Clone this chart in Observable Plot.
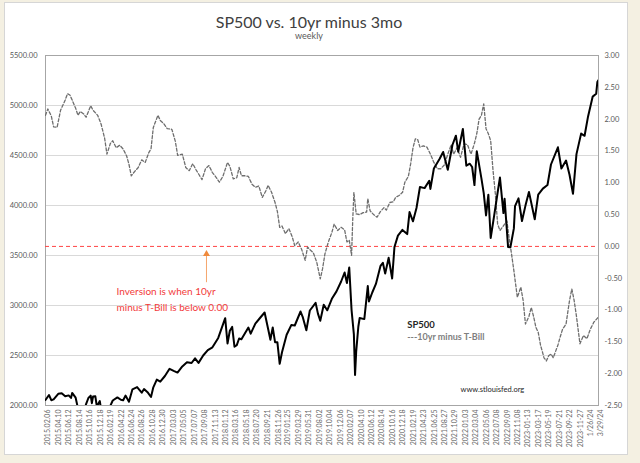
<!DOCTYPE html>
<html><head><meta charset="utf-8">
<script src="https://cdn.jsdelivr.net/npm/d3@7"></script>
<script src="https://cdn.jsdelivr.net/npm/@observablehq/plot@0.6"></script>
<style>
html,body{margin:0;padding:0;width:640px;height:463px;overflow:hidden;background:#f4f0e2;font-family:Lato,"Open Sans",sans-serif;}
#panel{position:absolute;left:4px;top:2px;width:622px;height:451px;background:#fff;border:1px solid #d6d6d6;}
#chart{position:absolute;left:0;top:0;}
.t{position:absolute;white-space:nowrap;transform:translateX(-50%);}
</style></head><body>
<div id="panel"></div>
<div class="t" style="left:309px;top:14px;font-size:16px;line-height:16px;color:#404040;">SP500 vs. 10yr minus 3mo</div>
<div class="t" style="left:309px;top:31px;font-size:9px;line-height:9px;color:#595959;">weekly</div>
<div id="chart"></div>
<script>
const spDates = ["2015-02-06","2015-02-27","2015-03-13","2015-03-27","2015-04-24","2015-05-15","2015-06-05","2015-06-26","2015-07-10","2015-07-17","2015-08-07","2015-08-21","2015-09-04","2015-09-18","2015-09-25","2015-10-09","2015-10-23","2015-11-06","2015-11-13","2015-11-20","2015-12-04","2015-12-11","2015-12-18","2015-12-31","2016-01-15","2016-02-12","2016-03-04","2016-03-18","2016-04-15","2016-05-06","2016-05-20","2016-06-03","2016-06-24","2016-07-15","2016-08-12","2016-09-09","2016-09-23","2016-10-14","2016-11-04","2016-11-18","2016-12-09","2016-12-30","2017-01-27","2017-02-24","2017-03-24","2017-04-13","2017-05-12","2017-06-09","2017-07-07","2017-07-28","2017-08-18","2017-09-15","2017-10-13","2017-11-10","2017-12-15","2018-01-26","2018-02-09","2018-02-23","2018-03-09","2018-03-23","2018-04-06","2018-04-20","2018-05-04","2018-06-15","2018-06-29","2018-07-27","2018-08-24","2018-09-21","2018-10-12","2018-10-26","2018-11-09","2018-11-23","2018-12-07","2018-12-21","2019-01-04","2019-02-01","2019-03-01","2019-03-22","2019-04-26","2019-05-10","2019-05-31","2019-06-21","2019-07-26","2019-08-09","2019-08-23","2019-09-13","2019-10-04","2019-11-01","2019-11-29","2019-12-27","2020-01-17","2020-01-31","2020-02-14","2020-02-28","2020-03-13","2020-03-20","2020-03-27","2020-04-09","2020-04-17","2020-05-15","2020-06-05","2020-06-12","2020-07-02","2020-07-24","2020-08-21","2020-09-04","2020-09-18","2020-10-09","2020-10-30","2020-11-13","2020-12-04","2020-12-31","2021-01-29","2021-02-12","2021-03-05","2021-03-26","2021-04-16","2021-05-14","2021-06-11","2021-06-18","2021-07-09","2021-08-13","2021-09-03","2021-10-01","2021-10-29","2021-11-19","2021-12-03","2021-12-31","2022-01-21","2022-02-11","2022-02-25","2022-03-11","2022-03-25","2022-04-22","2022-05-06","2022-05-20","2022-06-03","2022-06-17","2022-07-08","2022-07-29","2022-08-12","2022-09-02","2022-09-09","2022-09-30","2022-10-14","2022-11-04","2022-11-11","2022-12-02","2022-12-23","2023-01-13","2023-02-03","2023-03-10","2023-03-31","2023-04-28","2023-05-26","2023-06-16","2023-07-28","2023-08-18","2023-09-15","2023-10-06","2023-10-27","2023-11-17","2023-12-15","2024-01-05","2024-01-26","2024-02-23","2024-03-15","2024-03-22","2024-03-29"];
const spValues = [2055,2105,2053,2061,2117,2122,2092,2101,2076,2126,2078,1971,1921,1958,1931,2014,2075,2099,2023,2089,2092,2012,2005,2044,1880,1865,1999,2050,2081,2057,2052,2099,2037,2162,2184,2128,2165,2133,2085,2182,2259,2239,2295,2367,2344,2329,2391,2432,2425,2472,2426,2500,2553,2582,2676,2873,2620,2747,2786,2588,2604,2670,2663,2780,2718,2819,2875,2930,2767,2658,2781,2633,2633,2417,2532,2707,2804,2800,2940,2881,2752,2950,3026,2919,2847,3007,2952,3067,3141,3240,3330,3225,3380,2954,2711,2305,2541,2790,2875,2864,3194,3041,3130,3216,3397,3427,3319,3477,3270,3585,3699,3756,3714,3934,3842,3975,4185,4174,4247,4166,4370,4468,4535,4357,4605,4698,4538,4766,4398,4418,4385,4204,4543,4272,4123,3901,4108,3675,3899,4130,4280,3924,4067,3586,3583,3771,3993,4072,3845,3999,4136,3862,4109,4169,4205,4410,4582,4370,4450,4308,4117,4514,4719,4697,4891,5089,5117,5234,5254];

const spreadDates = ["2015-02-06","2015-02-20","2015-03-13","2015-03-27","2015-04-17","2015-05-08","2015-06-05","2015-06-19","2015-07-03","2015-07-17","2015-08-07","2015-08-21","2015-09-04","2015-09-25","2015-10-09","2015-11-06","2015-11-20","2015-12-18","2016-01-08","2016-01-29","2016-02-12","2016-03-04","2016-03-18","2016-04-08","2016-04-29","2016-05-20","2016-06-10","2016-06-24","2016-07-08","2016-07-29","2016-08-19","2016-09-09","2016-09-30","2016-10-21","2016-11-04","2016-11-18","2016-12-16","2016-12-30","2017-01-20","2017-02-10","2017-03-10","2017-03-31","2017-04-14","2017-05-12","2017-06-02","2017-06-23","2017-07-14","2017-08-04","2017-08-25","2017-09-08","2017-09-29","2017-10-20","2017-11-10","2017-12-01","2017-12-22","2018-01-12","2018-02-09","2018-02-23","2018-03-16","2018-04-06","2018-04-20","2018-05-04","2018-05-25","2018-06-15","2018-07-06","2018-07-27","2018-08-17","2018-09-07","2018-09-28","2018-10-12","2018-11-02","2018-11-23","2018-12-07","2018-12-21","2019-01-04","2019-01-25","2019-02-15","2019-03-08","2019-03-22","2019-04-12","2019-05-03","2019-05-24","2019-06-07","2019-06-21","2019-07-12","2019-08-02","2019-08-23","2019-09-06","2019-09-20","2019-10-11","2019-11-01","2019-11-15","2019-12-06","2019-12-27","2020-01-17","2020-01-31","2020-02-14","2020-02-28","2020-03-06","2020-03-13","2020-03-27","2020-04-17","2020-05-08","2020-05-29","2020-06-05","2020-06-19","2020-07-10","2020-07-31","2020-08-21","2020-09-11","2020-09-25","2020-10-16","2020-11-06","2020-11-20","2020-12-11","2021-01-01","2021-01-15","2021-02-05","2021-02-19","2021-03-05","2021-03-19","2021-04-02","2021-04-16","2021-05-07","2021-05-28","2021-06-18","2021-07-09","2021-07-30","2021-08-20","2021-09-10","2021-10-01","2021-10-22","2021-11-05","2021-11-26","2021-12-17","2022-01-07","2022-01-28","2022-02-18","2022-03-11","2022-03-25","2022-04-08","2022-04-22","2022-05-06","2022-05-20","2022-06-03","2022-06-17","2022-07-01","2022-07-15","2022-07-29","2022-08-12","2022-08-26","2022-09-09","2022-09-23","2022-10-07","2022-10-21","2022-11-04","2022-11-25","2022-12-16","2022-12-30","2023-01-13","2023-02-03","2023-02-17","2023-03-03","2023-03-17","2023-03-31","2023-04-14","2023-05-05","2023-05-19","2023-06-02","2023-06-16","2023-06-30","2023-07-14","2023-07-28","2023-08-11","2023-08-25","2023-09-15","2023-10-06","2023-10-20","2023-11-03","2023-11-17","2023-12-08","2023-12-29","2024-01-19","2024-02-09","2024-03-01","2024-03-29"];
const spreadValues = [2.06,2.16,2.05,1.88,1.87,2.14,2.30,2.40,2.38,2.30,2.17,2.06,2.12,2.08,2.03,2.21,2.14,2.06,1.92,1.70,1.45,1.62,1.66,1.55,1.59,1.53,1.42,1.29,1.11,1.18,1.24,1.36,1.32,1.47,1.53,1.87,2.06,1.98,1.93,1.85,1.84,1.65,1.43,1.45,1.24,1.19,1.30,1.20,1.11,1.05,1.22,1.27,1.16,1.09,1.01,1.10,1.32,1.26,1.06,1.08,1.24,1.11,1.11,1.10,0.98,0.93,0.95,0.77,0.87,0.96,0.85,0.69,0.55,0.30,0.32,0.20,0.28,0.14,0.01,0.07,-0.05,-0.22,-0.01,-0.05,-0.10,-0.25,-0.51,-0.35,-0.12,0.07,0.22,0.35,0.25,0.30,0.26,0.07,0.10,-0.14,0.41,0.85,0.51,0.50,0.53,0.54,0.75,0.56,0.50,0.46,0.55,0.61,0.57,0.69,0.70,0.77,0.80,0.85,1.01,1.10,1.30,1.55,1.69,1.68,1.56,1.58,1.56,1.45,1.32,1.22,1.22,1.28,1.45,1.60,1.45,1.55,1.40,1.61,1.60,1.45,1.62,1.77,2.00,2.06,2.24,1.85,1.77,1.66,1.20,0.83,0.35,0.25,0.30,0.35,0.40,0.12,-0.12,-0.38,-0.80,-0.64,-0.85,-1.22,-1.10,-0.96,-1.10,-1.27,-1.35,-1.55,-1.75,-1.80,-1.72,-1.69,-1.75,-1.65,-1.55,-1.42,-1.30,-1.22,-0.85,-0.67,-0.85,-1.10,-1.53,-1.40,-1.45,-1.30,-1.19,-1.11];

const xLabels = ["2015.02.06","2015.04.10","2015.06.12","2015.08.14","2015.10.16","2015.12.18","2016.02.19","2016.04.22","2016.06.24","2016.08.26","2016.10.28","2016.12.30","2017.03.03","2017.05.05","2017.07.07","2017.09.08","2017.11.13","2018.01.12","2018.03.16","2018.05.18","2018.07.20","2018.09.21","2018.11.26","2019.01.25","2019.03.29","2019.05.31","2019.08.02","2019.10.04","2019.12.06","2020.02.07","2020.04.10","2020.06.12","2020.08.14","2020.10.16","2020.12.18","2021.02.19","2021.04.23","2021.06.25","2021.08.27","2021.10.29","2022.01.03","2022.03.04","2022.05.06","2022.07.08","2022.09.09","2022.11.08","2023-01-13","2023-03-17","2023-05-19","2023-07-21","2023-09-22","2023-11-27","1/26/24","3/29/24"];
const leftTicks = [2000,2500,3000,3500,4000,4500,5000,5500];
const rightTicks = [-2.5,-2,-1.5,-1,-0.5,0,0.5,1,1.5,2,2.5,3];

const noteText = "Inversion is when 10yr\nminus T-Bill is below 0.00";
const noteDate = "2016-04-10", noteValue = 3075;
const arrowDate = "2017-10-05", arrowFrom = -0.57, arrowTo = -0.12;
const legendTexts = ["SP500", "---10yr minus T-Bill"];
const legendDate = "2021-01-29", legendValues = [2805, 2685];
const sourceText = "www.stlouisfed.org", sourceDate = "2021-12-17", sourceValue = 2160;

const L0 = 2000, L1 = 5500, R0 = -2.5, R1 = 3;
const toLeft = r => L0 + (r - R0) * (L1 - L0) / (R1 - R0);
const fromLeft = v => R0 + (v - L0) * (R1 - R0) / (L1 - L0);

function parseLabel(s) {
  let m;
  if ((m = s.match(/^(\d{4})[.-](\d{2})[.-](\d{2})$/))) return new Date(Date.UTC(+m[1], +m[2] - 1, +m[3]));
  if ((m = s.match(/^(\d+)\/(\d+)\/(\d+)$/))) return new Date(Date.UTC(2000 + +m[3], +m[1] - 1, +m[2]));
}
const xTicks = xLabels.map(parseLabel);
const labelOf = new Map(xTicks.map((d, i) => [+d, xLabels[i]]));

const sp = spDates.map((d, i) => ({date: new Date(d), value: spValues[i]}));
const spread = spreadDates.map((d, i) => ({date: new Date(d), value: toLeft(spreadValues[i])}));

const chart = Plot.plot({
  width: 640, height: 463,
  marginLeft: 45, marginRight: 42, marginTop: 55, marginBottom: 58,
  style: {fontFamily: "Lato, 'Open Sans', sans-serif", fontSize: "7.5px", color: "#595959", background: "transparent", overflow: "visible"},
  x: {type: "utc", domain: [xTicks[0], xTicks[xTicks.length - 1]]},
  y: {domain: [L0, L1]},
  marks: [
    Plot.gridY(leftTicks.slice(1, -1), {stroke: "#d9d9d9", strokeOpacity: 1}),
    Plot.frame({stroke: "#a6a6a6"}),
    Plot.ruleY([toLeft(0)], {stroke: "#ff4545", strokeDasharray: "4,3", strokeWidth: 1}),
    Plot.lineY(spread, {x: "date", y: "value", stroke: "#6e6e6e", strokeWidth: 1.3, strokeDasharray: "3,2", clip: true}),
    Plot.lineY(sp, {x: "date", y: "value", stroke: "#000", strokeWidth: 2, clip: true}),
    Plot.axisY(leftTicks, {anchor: "left", tickSize: 0, tickPadding: 8, tickFormat: d => d.toFixed(2), label: null}),
    Plot.axisY(rightTicks.map(toLeft), {anchor: "right", tickSize: 0, tickPadding: 6, tickFormat: d => fromLeft(d).toFixed(2), label: null}),
    Plot.axisX(xTicks, {anchor: "bottom", tickSize: 0, tickPadding: 4, rotate: -90, textAnchor: "end", fontSize: 7, fill: "#6a6a6a", tickFormat: d => labelOf.get(+d), label: null}),
    Plot.ruleX([{date: new Date(arrowDate), y1: toLeft(arrowFrom), y2: toLeft(arrowTo)}], {x: "date", y1: "y1", y2: "y2", stroke: "#f5a66c", strokeWidth: 1}),
    Plot.dot([{date: new Date(arrowDate), y: toLeft(arrowTo)}], {x: "date", y: "y", symbol: "triangle", r: 2.6, fill: "#f08a3c", stroke: null}),
    Plot.text([{date: new Date(noteDate), y: noteValue, t: noteText}], {x: "date", y: "y", text: "t", textAnchor: "start", lineHeight: 1.6, fontSize: 10, fill: "#f23a3a"}),
    Plot.text([{date: new Date(legendDate), y: legendValues[0], t: legendTexts[0]}], {x: "date", y: "y", text: "t", textAnchor: "start", fontSize: 9.5, fontWeight: "bold", fill: "#262626"}),
    Plot.text([{date: new Date(legendDate), y: legendValues[1], t: legendTexts[1]}], {x: "date", y: "y", text: "t", textAnchor: "start", fontSize: 9, fontWeight: "bold", fill: "#808080"}),
    Plot.text([{date: new Date(sourceDate), y: sourceValue, t: sourceText}], {x: "date", y: "y", text: "t", textAnchor: "start", fontSize: 7.5, fill: "#262626"})
  ]
});
document.getElementById("chart").appendChild(chart);
</script>
</body></html>
